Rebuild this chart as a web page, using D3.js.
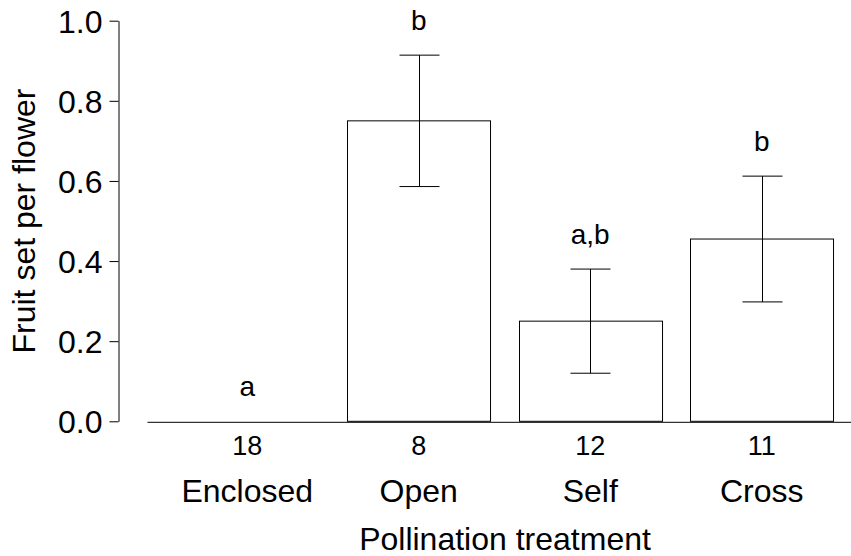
<!DOCTYPE html>
<html>
<head>
<meta charset="utf-8">
<script src="https://cdn.jsdelivr.net/npm/d3@7"></script>
<style>
  html, body { margin: 0; padding: 0; background: #fff; }
  text { font-family: "Liberation Sans", Arial, sans-serif; fill: #000; }
</style>
</head>
<body>
<svg id="chart" width="851" height="556"></svg>
<script>
const categories = ["Enclosed", "Open", "Self", "Cross"];
const sampleSizes = ["18", "8", "12", "11"];
const means = [0.0, 0.75, 0.25, 0.455];
const errors = [0.0, 0.164, 0.13, 0.157];
const letters = ["a", "b", "a,b", "b"];
const yTicks = [0.0, 0.2, 0.4, 0.6, 0.8, 1.0];

const svg = d3.select("#chart");

const y = d3.scaleLinear().domain([0, 1]).range([421.3, 20.7]);
const x = d3.scaleBand().domain(categories).range([147, 862])
  .paddingInner(0.166).paddingOuter(0.1676);

// Y axis
const yAxis = svg.append("g").attr("transform", "translate(118.5,0)")
  .call(d3.axisLeft(y).tickValues(yTicks).tickFormat(d3.format(".1f"))
    .tickSize(9).tickSizeOuter(0).tickPadding(7));
yAxis.selectAll("path, line").attr("stroke", "#000").attr("stroke-width", 1);
yAxis.selectAll("text").style("font-size", "32px").attr("dy", "0.36em");

// X axis (sample sizes as tick labels)
const xAxis = svg.append("g").attr("transform", "translate(0," + (y(0) + 0.5) + ")")
  .call(d3.axisBottom(x).tickSize(0).tickSizeOuter(0).tickPadding(14)
    .tickFormat((d, i) => sampleSizes[i]));
xAxis.selectAll("path").attr("stroke", "#000").attr("stroke-width", 1);
xAxis.selectAll("text").style("font-size", "27px");

// Category labels
svg.append("g").selectAll("text").data(categories).join("text")
  .attr("x", d => x(d) + x.bandwidth() / 2)
  .attr("y", 502)
  .attr("text-anchor", "middle")
  .style("font-size", "32px")
  .text(d => d);

// Bars
svg.append("g").selectAll("rect").data(categories).join("rect")
  .attr("x", d => Math.round(x(d)) + 0.5)
  .attr("y", (d, i) => y(means[i]))
  .attr("width", x.bandwidth())
  .attr("height", (d, i) => y(0) - y(means[i]))
  .attr("fill", "none")
  .attr("stroke", "#000")
  .attr("stroke-width", 1);

// Error bars
const eb = svg.append("g").attr("stroke", "#000").attr("stroke-width", 1);
categories.forEach((c, i) => {
  if (errors[i] <= 0) return;
  const cx = Math.round(x(c) + x.bandwidth() / 2) + 0.5;
  const hi = y(means[i] + errors[i]), lo = y(means[i] - errors[i]);
  eb.append("line").attr("x1", cx).attr("x2", cx).attr("y1", hi).attr("y2", lo);
  eb.append("line").attr("x1", cx - 20).attr("x2", cx + 20).attr("y1", hi).attr("y2", hi);
  eb.append("line").attr("x1", cx - 20).attr("x2", cx + 20).attr("y1", lo).attr("y2", lo);
});

// Significance letters
svg.append("g").selectAll("text").data(categories).join("text")
  .attr("x", d => x(d) + x.bandwidth() / 2)
  .attr("y", (d, i) => y(means[i] + errors[i]) - 25)
  .attr("text-anchor", "middle")
  .style("font-size", "28px")
  .text((d, i) => letters[i]);

// Axis titles
svg.append("text")
  .attr("x", 505)
  .attr("y", 550)
  .attr("text-anchor", "middle")
  .style("font-size", "32px")
  .text("Pollination treatment");

svg.append("text")
  .attr("transform", "translate(35,221) rotate(-90)")
  .attr("text-anchor", "middle")
  .style("font-size", "32px")
  .text("Fruit set per flower");
</script>
</body>
</html>
